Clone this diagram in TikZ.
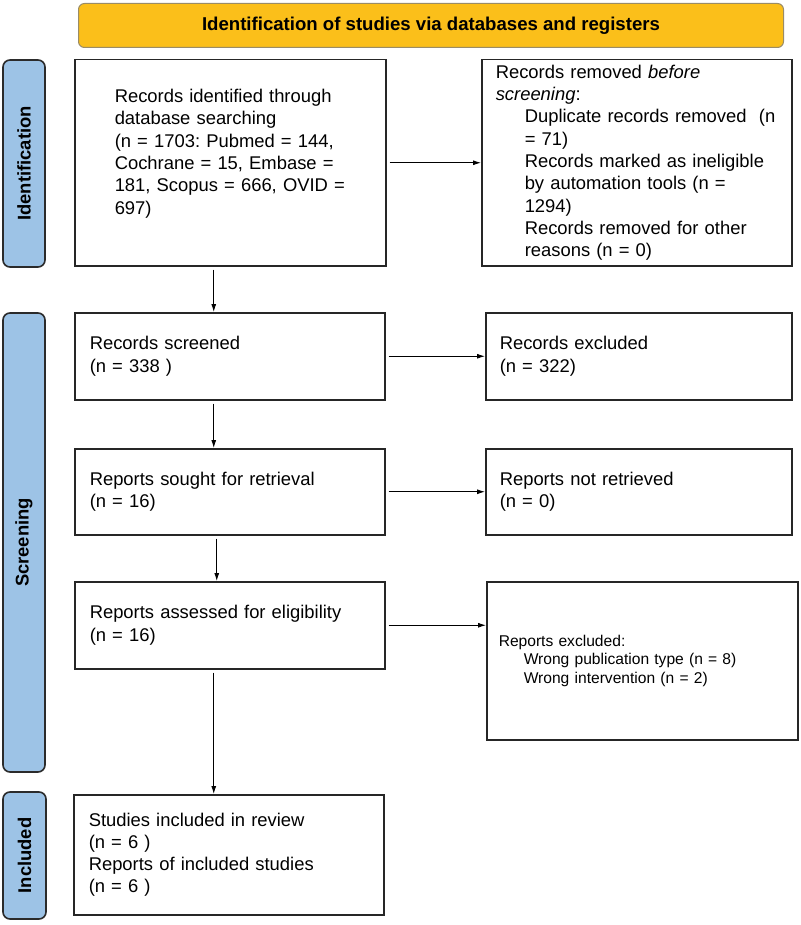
\documentclass[tikz,border=0pt]{standalone}
\usepackage{fontspec}
\setmainfont{Liberation Sans}
\usetikzlibrary{arrows.meta}
\frenchspacing

\definecolor{bannerfill}{HTML}{FBBF1A}
\definecolor{bannerline}{HTML}{9A8C66}
\definecolor{sidefill}{HTML}{9DC3E6}
\definecolor{sideline}{HTML}{2B2B2B}
\newcommand{\subind}{\hspace*{29pt}}
\newcommand{\exind}{\hspace*{25pt}}

\begin{document}
\begin{tikzpicture}[x=1pt,y=-1pt]
	\tikzstyle{box}=[draw=black!85,line width=1.5pt,anchor=north west,align=left,inner xsep=15pt,inner ysep=0pt,text width=280pt,font=\fontsize{18.4}{22.3}\selectfont]
	\tikzstyle{side}=[draw=sideline,fill=sidefill,line width=1.6pt,rounded corners=7pt,rotate=90,minimum height=42pt,inner sep=0pt,font=\bfseries\fontsize{18.4}{22}\selectfont]
	\tikzstyle{flow}=[-{Latex[length=8pt,width=5pt]},line width=0.9pt,shorten <=3pt]
	\useasboundingbox (0,0) rectangle (800,925);
	% header
	\node[draw=bannerline,fill=bannerfill,line width=1pt,rounded corners=6pt,anchor=north west,minimum width=705pt,minimum height=44pt,font=\bfseries\fontsize{18.6}{22}\selectfont] (banner) at (78,3) {Identification of studies via databases and registers};
	% stage labels
	\node[side,minimum width=207pt] (identlbl) at (24,163.5) {Identification};
	\node[side,minimum width=459pt] (screenlbl) at (24,542.5) {Screening};
	\node[side,minimum width=127pt,minimum height=43pt] (incllbl) at (24.5,855.5) {Included};
	% identification
	\node[box,inner xsep=40pt,text width=231pt,minimum height=206pt] (records) at (74,59) {Records identified through\\database searching\\(n = 1703: Pubmed = 144,\\Cochrane = 15, Embase =\\181, Scopus = 666, OVID =\\697)\\\mbox{}};
	\node[box,inner xsep=14pt,text width=282pt,minimum height=206pt] (removed) at (481,59) {Records removed \textit{before}\\\textit{screening}:\\\subind Duplicate records removed\ \ (n\\\subind = 71)\\\subind Records marked as ineligible\\\subind by automation tools (n =\\\subind 1294)\\\subind Records removed for other\\\subind reasons (n = 0)};
	% screening
	\node[box,minimum height=87pt] (screened) at (74,312) {Records screened\\(n = 338 )};
	\node[box,inner xsep=14pt,text width=278pt,minimum height=87pt] (excluded) at (485,312) {Records excluded\\(n = 322)};
	\node[box,minimum height=86pt] (sought) at (74,448) {Reports sought for retrieval\\(n = 16)};
	\node[box,inner xsep=14pt,text width=278pt,minimum height=86pt] (notret) at (485,448) {Reports not retrieved\\(n = 0)};
	\node[box,minimum height=87pt] (assessed) at (74,581) {Reports assessed for eligibility\\(n = 16)};
	\node[box,inner xsep=12pt,text width=287pt,minimum height=158pt,font=\fontsize{15.6}{18.5}\selectfont] (repexcl) at (486,581) {Reports excluded:\\\exind Wrong publication type (n = 8)\\\exind Wrong intervention (n = 2)};
	% included
	\node[box,minimum height=120pt] (included) at (73,794) {Studies included in review\\(n = 6 )\\Reports of included studies\\(n = 6 )};
	% arrows
	\draw[flow] (records.east) -- (removed.west);
	\draw[flow] ([xshift=-16.5pt]records.south) -- ([xshift=-16.5pt]records.south |- screened.north);
	\draw[flow] (screened.east) -- (excluded.west);
	\draw[flow] ([xshift=-16pt]screened.south) -- ([xshift=-16pt]screened.south |- sought.north);
	\draw[flow] (sought.east) -- (notret.west);
	\draw[flow] ([xshift=-13pt]sought.south) -- ([xshift=-13pt]sought.south |- assessed.north);
	\draw[flow] (assessed.east) -- (assessed.east -| repexcl.west);
	\draw[flow] ([xshift=-16pt]assessed.south) -- ([xshift=-16pt]assessed.south |- included.north);
\end{tikzpicture}
\end{document}
